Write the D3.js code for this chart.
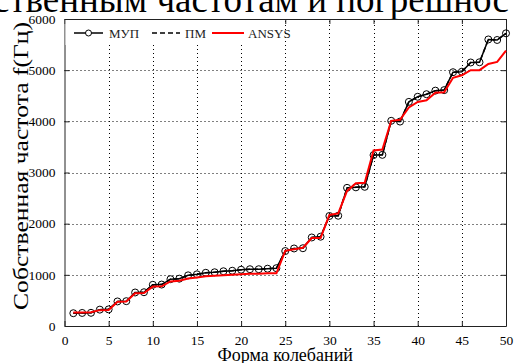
<!DOCTYPE html>
<html>
<head>
<meta charset="utf-8">
<script src="https://cdn.jsdelivr.net/npm/d3@7"></script>
<style>
  body { margin: 0; background: #fff; overflow: hidden; }
  svg { display: block; }
</style>
</head>
<body>
<div id="chart"></div>
<script>
// data
const modes = d3.range(1, 51);
const mup = [250, 255, 258, 320, 325, 480, 485, 655, 660, 805, 810, 915, 925, 990, 1010,
  1040, 1050, 1070, 1080, 1100, 1110, 1110, 1120, 1130, 1465, 1515, 1520, 1730, 1745, 2150,
  2155, 2700, 2710, 2720, 3340, 3345, 4010, 3995, 4380, 4480, 4530, 4600, 4610, 4960, 4970,
  5150, 5155, 5600, 5590, 5720];
const pm = [250, 255, 258, 320, 325, 480, 485, 655, 660, 805, 810, 915, 925, 990, 1010,
  1040, 1050, 1070, 1080, 1100, 1110, 1110, 1120, 1130, 1465, 1515, 1520, 1730, 1745, 2150,
  2155, 2700, 2710, 2720, 3340, 3345, 4010, 3995, 4380, 4480, 4530, 4600, 4610, 4960, 4970,
  5150, 5155, 5600, 5590, 5720];
const ansys = [265, 265, 268, 310, 312, 475, 478, 640, 645, 770, 775, 870, 885, 930, 950,
  970, 980, 990, 1000, 1010, 1020, 1020, 1030, 1030, 1470, 1500, 1530, 1720, 1720, 2170,
  2200, 2640, 2790, 2800, 3430, 3450, 4010, 4030, 4270, 4380, 4410, 4560, 4570, 4850, 4900,
  5000, 5000, 5120, 5160, 5380];
const xTicks = [0, 5, 10, 15, 20, 25, 30, 35, 40, 45, 50];
const yTicks = [0, 1000, 2000, 3000, 4000, 5000, 6000];
const legendItems = ['МУП', 'ПМ', 'ANSYS'];

const W = 514, H = 363;
const margin = {top: 19, right: 8, bottom: 37, left: 64.5};
const serif = '"Liberation Serif", "DejaVu Serif", serif';

const svg = d3.select('#chart').append('svg')
    .attr('width', W)
    .attr('height', H);

// cropped document text above the figure
svg.append('text')
    .attr('x', -7)
    .attr('y', 12)
    .attr('font-family', serif)
    .attr('font-size', 37)
    .attr('fill', '#000')
    .text('ственным частотам и погрешнос');

const x = d3.scaleLinear().domain([0, 50]).range([margin.left, W - margin.right]);
const y = d3.scaleLinear().domain([0, 6000]).range([H - margin.bottom, margin.top]);

// grid
const grid = svg.append('g').attr('stroke', '#000').attr('stroke-width', 1)
    .attr('stroke-dasharray', '1,3');
grid.selectAll('.gx').data(xTicks.slice(1, -1)).join('line')
    .attr('x1', (d) => Math.round(x(d)) + 0.5).attr('x2', (d) => Math.round(x(d)) + 0.5)
    .attr('y1', y(0)).attr('y2', y(6000));
grid.selectAll('.gy').data(yTicks.slice(1, -1)).join('line')
    .attr('y1', (d) => Math.round(y(d)) + 0.5).attr('y2', (d) => Math.round(y(d)) + 0.5)
    .attr('x1', x(0)).attr('x2', x(50));

// axes
const fmt = d3.format('d');
const xAxis = d3.axisBottom(x).tickValues(xTicks).tickSizeInner(-5).tickSizeOuter(0)
    .tickPadding(9).tickFormat(fmt);
const yAxis = d3.axisLeft(y).tickValues(yTicks).tickSizeInner(-5).tickSizeOuter(0)
    .tickPadding(9).tickFormat(fmt);
const xTop = d3.axisTop(x).tickValues(xTicks).tickSizeInner(-5).tickSizeOuter(0).tickFormat('');
const yRight = d3.axisRight(y).tickValues(yTicks).tickSizeInner(-5).tickSizeOuter(0).tickFormat('');

[[xAxis, `translate(0,${y(0)})`], [yAxis, `translate(${x(0)},0)`],
  [xTop, `translate(0,${y(6000)})`], [yRight, `translate(${x(50)},0)`]].forEach(([ax, tr]) => {
  const g = svg.append('g').attr('transform', tr).call(ax);
  g.selectAll('path, line').attr('stroke', '#222');
  g.selectAll('text').attr('font-family', serif).attr('font-size', 13.5).attr('fill', '#000');
});

// legend background
const lg = svg.append('g');
lg.append('rect').attr('x', x(0) + 1).attr('y', y(6000) + 1).attr('width', 205).attr('height', 25)
    .attr('fill', '#fff');

const line = d3.line().x((d, i) => x(modes[i])).y((d) => y(d));

svg.append('path').datum(mup).attr('d', line)
    .attr('fill', 'none').attr('stroke', '#000').attr('stroke-width', 1.5);
svg.append('g').selectAll('circle').data(mup).join('circle')
    .attr('cx', (d, i) => x(modes[i])).attr('cy', (d) => y(d)).attr('r', 3.5)
    .attr('fill', 'none').attr('stroke', '#000').attr('stroke-width', 1);
svg.append('path').datum(pm).attr('d', line)
    .attr('fill', 'none').attr('stroke', '#000').attr('stroke-width', 1.5)
    .attr('stroke-dasharray', '5,3');
svg.append('path').datum(ansys).attr('d', line)
    .attr('fill', 'none').attr('stroke', '#ff0000').attr('stroke-width', 2);

// legend
const ly = 33;
const legendX = [[74, 103, 109], [152, 180, 185], [212, 244, 248]];
legendItems.forEach((name, i) => {
  const [x1, x2, tx] = legendX[i];
  const l = lg.append('line').attr('x1', x1).attr('x2', x2).attr('y1', ly).attr('y2', ly)
      .attr('stroke', i === 2 ? '#ff0000' : '#000').attr('stroke-width', i === 2 ? 2 : 1.5);
  if (i === 1) l.attr('stroke-dasharray', '5,3');
  if (i === 0) {
    lg.append('circle').attr('cx', (x1 + x2) / 2).attr('cy', ly).attr('r', 3)
        .attr('fill', '#fff').attr('stroke', '#000');
  }
  lg.append('text').attr('x', tx).attr('y', ly + 4.5)
      .attr('font-family', serif).attr('font-size', 13).attr('fill', '#222')
      .text(name);
});

// axis labels
svg.append('text')
    .attr('transform', `translate(28,166) rotate(-90)`)
    .attr('text-anchor', 'middle')
    .attr('font-family', serif).attr('font-size', 21.5).attr('fill', '#000')
    .attr('textLength', 288).attr('lengthAdjust', 'spacingAndGlyphs')
    .text('Собственная частота  f(Гц)');
svg.append('text')
    .attr('x', (x(0) + x(50)) / 2)
    .attr('y', 361)
    .attr('text-anchor', 'middle')
    .attr('font-family', serif).attr('font-size', 18).attr('fill', '#000')
    .text('Форма колебаний');
</script>
</body>
</html>
